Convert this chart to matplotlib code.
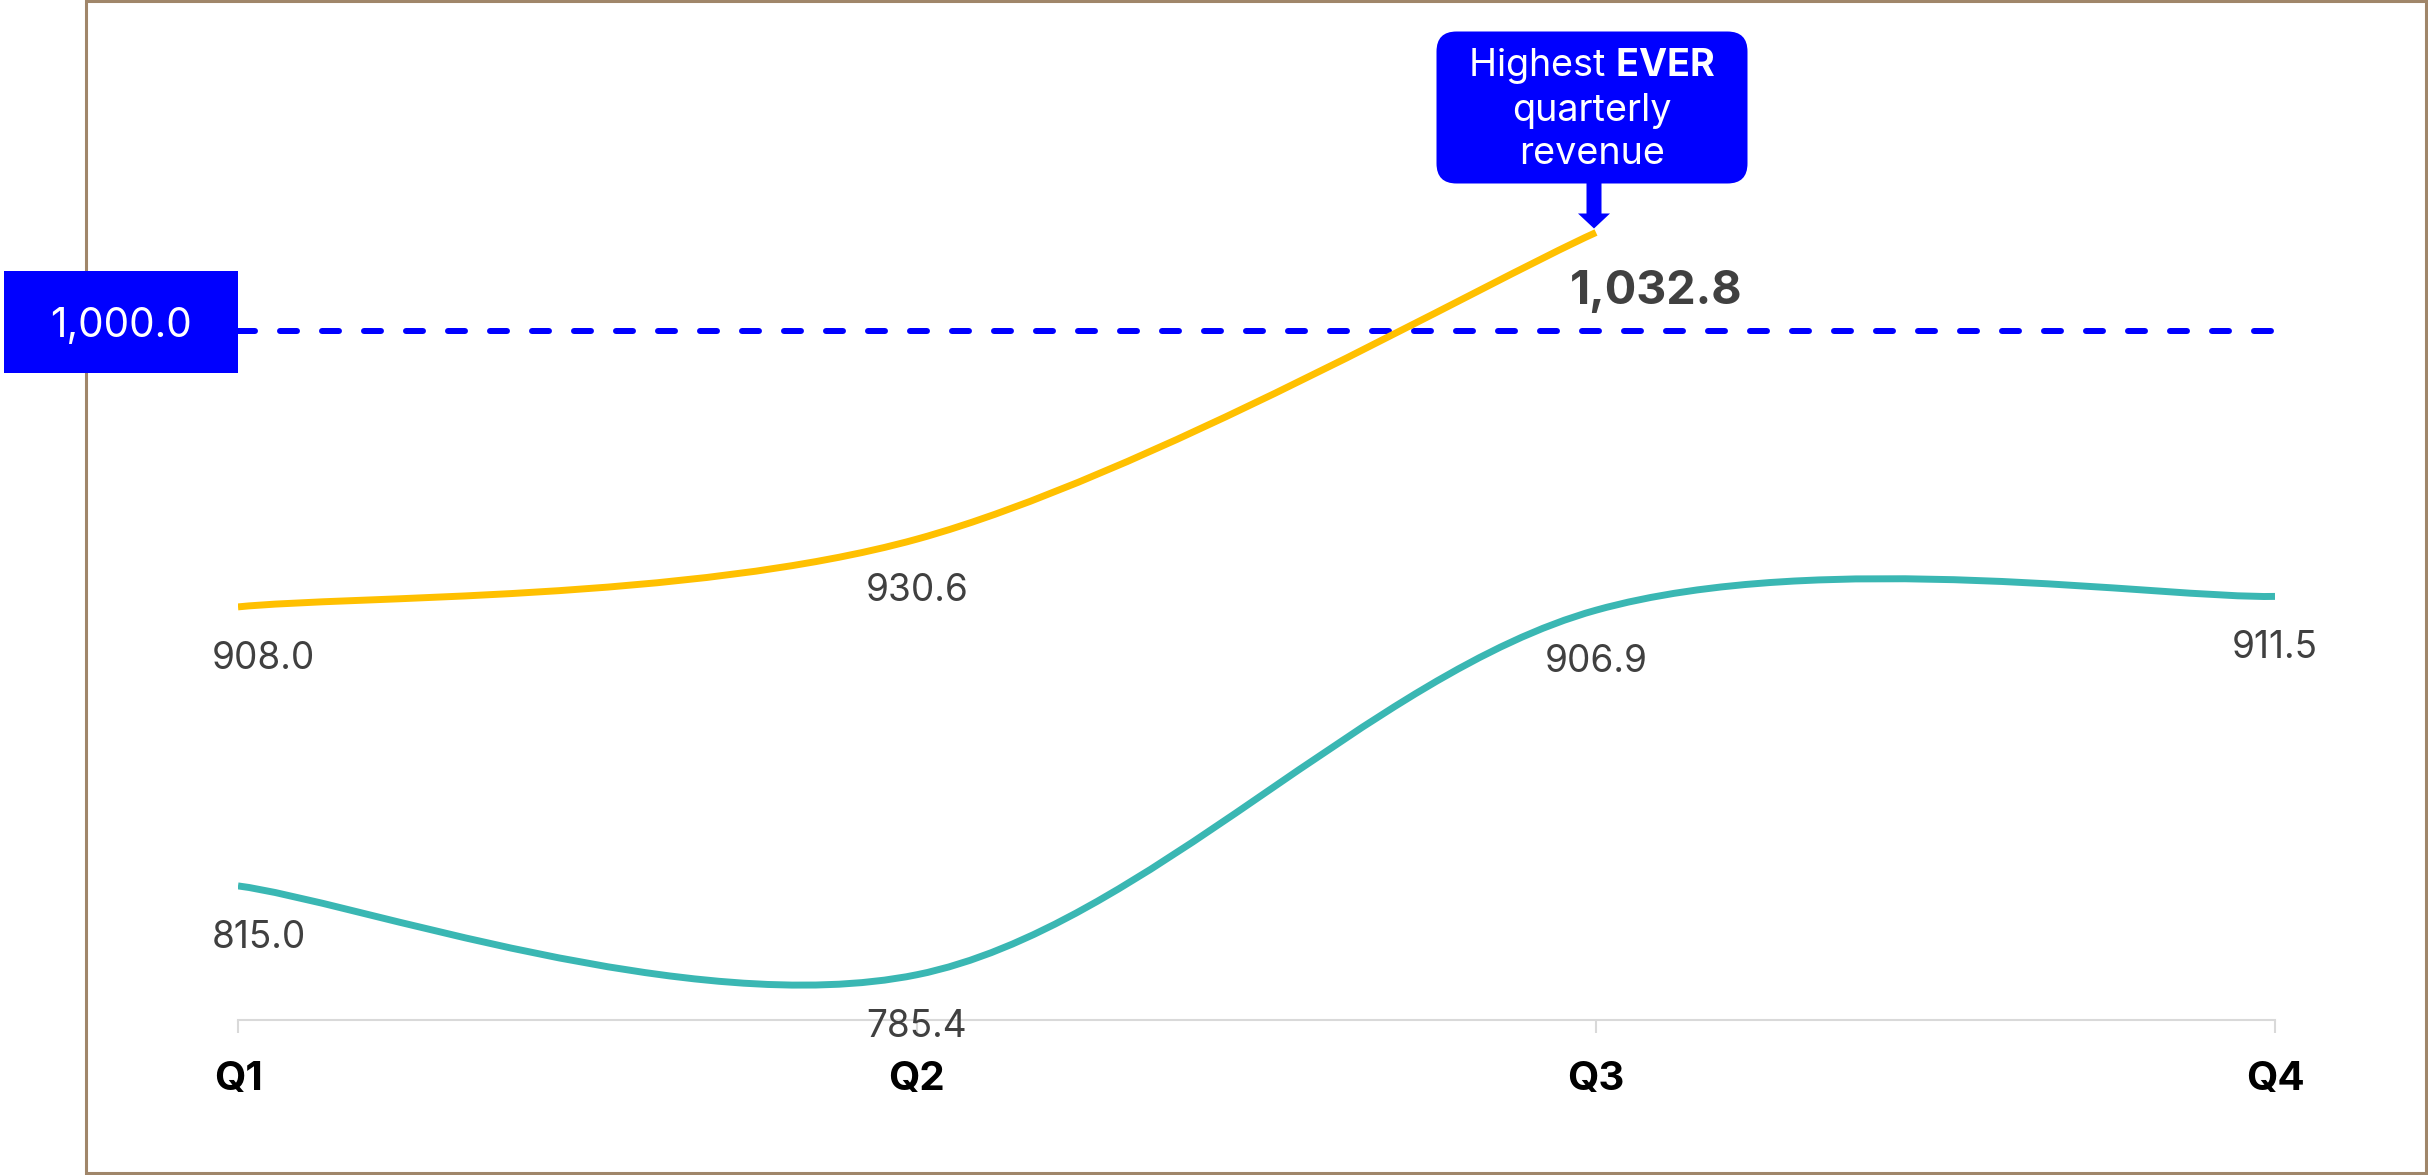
import matplotlib
matplotlib.use('Agg')
import matplotlib.pyplot as plt
from matplotlib.path import Path
from matplotlib.patches import PathPatch, FancyBboxPatch, Rectangle, FancyArrow
from matplotlib.transforms import IdentityTransform

plt.rcParams['font.family'] = ['Inter', 'DejaVu Sans']
plt.rcParams['mathtext.fontset'] = 'custom'
plt.rcParams['mathtext.rm'] = 'Inter'
plt.rcParams['mathtext.bf'] = 'Inter:bold'
plt.rcParams['mathtext.default'] = 'regular'

# data
quarters = ['Q1', 'Q2', 'Q3', 'Q4']
revenue_current = [908.0, 930.6, 1032.8]          # yellow, Q1-Q3 only
revenue_previous = [815.0, 785.4, 906.9, 911.5]   # teal
target_value = 1000.0
target_label = '1,000.0'
callout_lines = ['Highest $\\mathbf{EVER}$', 'quarterly', 'revenue']

YELLOW = '#FFC000'
TEAL = '#3AB7B3'
BLUE = '#0000FF'
GREY_TXT = '#404040'
W, H = 2428, 1175
px = IdentityTransform()


def smooth_path(xs, ys):
    # excel style smoothed line -> cubic bezier segments (catmull-rom tangents)
    pts = list(zip(xs, ys))
    n = len(pts)
    verts = [pts[0]]
    codes = [Path.MOVETO]
    for i in range(n - 1):
        p0 = pts[max(i - 1, 0)]
        p1 = pts[i]
        p2 = pts[i + 1]
        p3 = pts[min(i + 2, n - 1)]
        c1 = (p1[0] + (p2[0] - p0[0]) / 6, p1[1] + (p2[1] - p0[1]) / 6)
        c2 = (p2[0] - (p3[0] - p1[0]) / 6, p2[1] - (p3[1] - p1[1]) / 6)
        verts += [c1, c2, p2]
        codes += [Path.CURVE4] * 3
    return Path(verts, codes)


def value_label(i, v):
    # first quarter labels are pushed inside the plot area, like excel does
    if i == 0:
        ax.annotate(f'{v:,.1f}', (i, v), xytext=(-26, -62), textcoords='offset pixels',
                    ha='left', va='baseline', fontsize=13.3, color=GREY_TXT)
    else:
        ax.annotate(f'{v:,.1f}', (i, v), xytext=(0, -62), textcoords='offset pixels',
                    ha='center', va='baseline', fontsize=13.3, color=GREY_TXT)


fig = plt.figure(figsize=(W / 200, H / 200), dpi=200)
ax = fig.add_axes([238 / W, 1 - 1020 / H, (2275 - 238) / W, 1020 / H])
ax.set_xlim(0, len(quarters) - 1)
ax.set_ylim(770.3, 1110.3)
ax.patch.set_visible(False)

for s in ['top', 'left', 'right']:
    ax.spines[s].set_visible(False)
ax.spines['bottom'].set_color('#D9D9D9')
ax.spines['bottom'].set_linewidth(0.75)
ax.set_yticks([])
ax.set_xticks(range(len(quarters)), quarters)
ax.tick_params(axis='x', direction='out', length=4.7, width=0.75, color='#D9D9D9',
               pad=10, labelsize=14.5, labelcolor='black')
for lbl in ax.get_xticklabels():
    lbl.set_fontweight('bold')

# lines
x_cur = list(range(len(revenue_current)))
x_prev = list(range(len(revenue_previous)))
ax.add_patch(PathPatch(smooth_path(x_prev, revenue_previous), fill=False,
                       ec=TEAL, lw=2.5, capstyle='butt', zorder=3))
ax.add_patch(PathPatch(smooth_path(x_cur, revenue_current), fill=False,
                       ec=YELLOW, lw=2.5, capstyle='butt', zorder=3))

# target dashed line
ax.plot([0, len(quarters) - 1], [target_value, target_value], color=BLUE, lw=2.16,
        ls=(0, (2.83, 4.17)), dash_capstyle='round', zorder=2)

# data labels
for i, v in enumerate(revenue_previous):
    value_label(i, v)
for i, v in enumerate(revenue_current[:-1]):
    value_label(i, v)
last = len(revenue_current) - 1
ax.annotate(f'{revenue_current[last]:,.1f}', (last, revenue_current[last]),
            xytext=(60, -71), textcoords='offset pixels', ha='center', va='baseline',
            fontsize=16.8, fontweight='bold', color=GREY_TXT)

# target label box, right edge sits on Q1
tx, ty = ax.transData.transform((0, target_value))
fig.add_artist(Rectangle((tx - 234, ty + 9 - 51), 234, 102, fc=BLUE, ec='none',
                         transform=px, zorder=2))
fig.text(tx - 117, ty + 9 - 15.5, target_label, transform=px, ha='center', va='baseline',
         fontsize=14.6, color='white', zorder=3)

# callout over the peak
cx, cy = ax.transData.transform((last, revenue_current[last]))
bw, bh = 311, 152
bx = cx - 4 - bw / 2
by = cy + 49
fig.add_artist(FancyBboxPatch((bx, by), bw, bh, boxstyle='round,pad=0,rounding_size=20',
                              fc=BLUE, ec='none', transform=px, zorder=2))
fig.add_artist(FancyArrow(cx - 2, by + 2, 0, -(by + 2 - (cy + 4)), width=15, head_width=32,
                          head_length=15, length_includes_head=True, fc=BLUE, ec='none',
                          transform=px, zorder=2))
for line, off in zip(callout_lines, [157, 112, 69]):
    fig.text(cx - 4, cy + off, line, transform=px, ha='center', va='baseline',
             fontsize=13.6, color='white', zorder=3)

# outer frame
fig.add_artist(Rectangle((86, 2), 2340, 1172, fill=False, ec='#A0866A', lw=1.1,
                         transform=px, zorder=0.5))

fig.savefig('out.png', dpi=200)
